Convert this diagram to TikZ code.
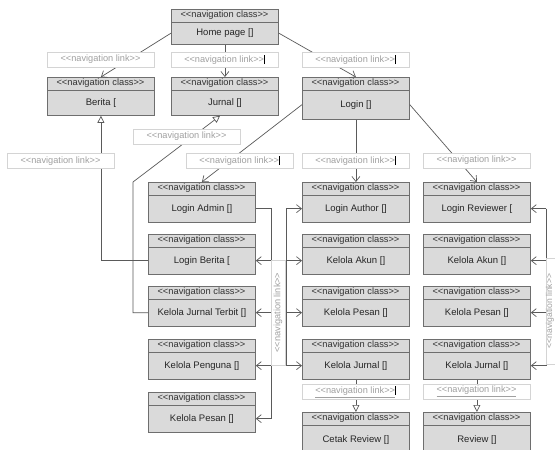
\documentclass[tikz,border=0pt]{standalone}
\usepackage{fontspec}
\newfontfamily\umlfont{Liberation Sans}
\usetikzlibrary{arrows.meta,calc}

\definecolor{boxfill}{HTML}{DADADA}
\definecolor{boxline}{HTML}{6E6E6E}
\definecolor{wirecol}{HTML}{5A5A5A}
\definecolor{tagline}{HTML}{D4D4D4}
\definecolor{tagtext}{HTML}{A0A0A0}

\tikzset{
  clsbox/.style={draw=boxline, fill=boxfill, line width=0.8pt, minimum width=107pt,
    inner sep=0pt, anchor=north west},
  clsbody/.style={draw=boxline, line width=0.8pt, minimum width=107pt, inner sep=0pt,
    anchor=north west, font=\umlfont\fontsize{9.5}{11}\selectfont, text=black!85},
  clshead/.style={font=\umlfont\fontsize{9.3}{10}\selectfont, text=black!80, inner sep=0pt},
  navlink/.style={draw=tagline, fill=white, line width=0.6pt, minimum width=107pt,
    minimum height=15pt, inner sep=0pt, font=\umlfont\fontsize{9.2}{10}\selectfont,
    text=tagtext},
  wire/.style={draw=wirecol, line width=0.7pt},
  nav/.style={wire, -{Straight Barb[length=5pt,width=8pt]}},
  navgen/.style={wire, -{Triangle[open,length=7pt,width=7pt,fill=white]}},
}

% class box: name, left, top, height, caption
\newcommand\navbox[5]{%
  \node[clsbox, minimum height=#4pt] (#1) at (#2,#3) {};
  \node[clsbody, minimum height=#4pt-12.5pt] (#1-b) at (#2,{#3+12.5}) {#5};
  \node[clshead] at ({#2+53.5},{#3+6.5}) {<<navigation class>>};
}
\newcommand\linktext{<<navigation link>>}
\newcommand\tagcaret{\textcolor{black}{\rule[-1.8pt]{0.7pt}{9.5pt}}}

\begin{document}
\begin{tikzpicture}[x=1pt,y=-1pt]
\useasboundingbox (0,0) rectangle (555,450);
\fill[white] (0,0) rectangle (555,450);
\clip (0,0) rectangle (555,450);

% top level
\navbox{home}{171}{9}{35}{Home page []}
\navbox{berita}{47}{77}{38}{Berita [}
\navbox{jurnal}{171}{77}{38}{Jurnal []}
\navbox{login}{302}{77}{42}{Login []}

% admin column
\navbox{ladm}{148}{182}{40}{Login Admin []}
\navbox{lber}{148}{234}{40}{Login Berita [}
\navbox{lkjt}{148}{286}{40}{Kelola Jurnal Terbit []}
\navbox{lpen}{148}{339}{40}{Kelola Penguna []}
\navbox{lpes}{148}{392}{40}{Kelola Pesan []}

% author column
\navbox{mauth}{302}{182}{40}{Login Author []}
\navbox{makun}{302}{234}{40}{Kelola Akun []}
\navbox{mpesan}{302}{286}{40}{Kelola Pesan []}
\navbox{mjurnal}{302}{339}{40}{Kelola Jurnal []}
\navbox{mcetak}{302}{412}{42}{Cetak Review []}

% reviewer column
\navbox{rrev}{423}{182}{40}{Login Reviewer [}
\navbox{rakun}{423}{234}{40}{Kelola Akun []}
\navbox{rpesan}{423}{286}{40}{Kelola Pesan []}
\navbox{rjurnal}{423}{339}{40}{Kelola Jurnal []}
\navbox{rreview}{423}{412}{42}{Review []}

% navigation from the home page and login
\draw[nav] (home-b.west) -- (berita.north);
\draw[nav] (home.south) -- (jurnal.north);
\draw[nav] (home-b.east) -- (login.north);
\draw[nav] (login-b.west) -- (ladm.north);
\draw[nav] (login.south) -- (mauth.north);
\draw[nav] (login-b.east) -- (rrev.north);

% links back to Berita and Jurnal
\draw[navgen] (lber-b.west) -| (berita.south);
\coordinate (jtip) at ($(jurnal.south west)!0.455!(jurnal.south east)$);
\coordinate (jbend) at (133,182);
\draw[navgen] (lkjt-b.west) -| (jbend) -- (jtip);

% admin bus
\coordinate (lbus) at (271,0);
\draw[nav] (ladm-b.east) -| (lpes-b.east -| lbus) -- (lpes-b.east);
\foreach \n in {lber,lkjt,lpen}
  \draw[nav] (\n-b.east -| lbus) -- (\n-b.east);

% author bus
\coordinate (mbus) at (286,0);
\draw[wire] (mauth-b.west -| mbus) -- (mjurnal-b.west -| mbus);
\foreach \n in {mauth,makun,mpesan,mjurnal}
  \draw[nav] (\n-b.west -| mbus) -- (\n-b.west);

% reviewer bus
\coordinate (rbus) at (546,0);
\draw[wire] (rrev-b.east -| rbus) -- (rjurnal-b.east -| rbus);
\foreach \n in {rrev,rakun,rpesan,rjurnal}
  \draw[nav] (\n-b.east -| rbus) -- (\n-b.east);

% review pages
\draw[navgen] (mjurnal.south) -- (mcetak.north);
\draw[navgen] (rjurnal.south) -- (rreview.north);

% link labels
\node[navlink] (lk1) at (100.5,59.5) {\linktext};
\node[navlink] (lk2) at (224.5,59.5) {\linktext\tagcaret};
\node[navlink] (lk3) at (355.5,59.5) {\linktext\tagcaret};
\node[navlink] (lk4) at (186.5,136.5) {\linktext};
\node[navlink] (lk5) at (60.5,161) {\linktext};
\node[navlink] (lk6) at (239.5,160.5) {\linktext\tagcaret};
\node[navlink] (lk7) at (355.5,160.5) {\linktext\tagcaret};
\node[navlink] (lk8) at (476.5,160.5) {\linktext};
\node[navlink, rotate=90, minimum width=105pt, minimum height=14pt] (lk9) at (278,312.5) {\linktext};
\node[navlink, rotate=90, minimum width=106pt, font=\umlfont\fontsize{8.6}{9}\selectfont]
  (lk10) at (553.5,311) {\raisebox{3.6pt}[\height][\depth]{\linktext}};
\node[navlink] (lk11) at (355.5,391.5) {\underline{\linktext}\tagcaret};
\node[navlink] (lk12) at (476.5,391.5) {\underline{\linktext}};
\end{tikzpicture}
\end{document}
